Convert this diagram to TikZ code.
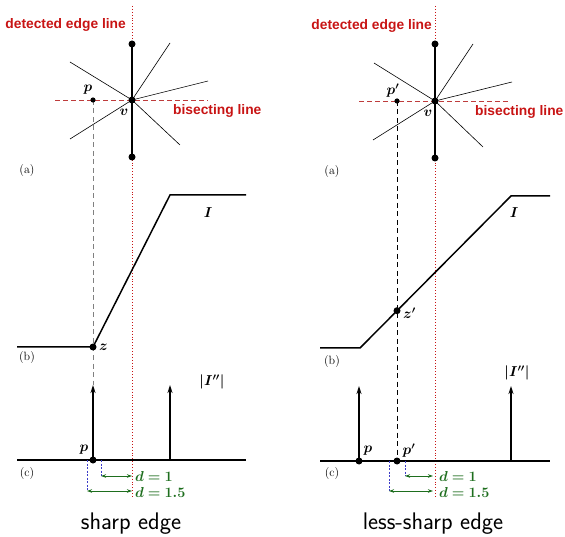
\documentclass[tikz,border=0pt]{standalone}
\usepackage{amsmath,bm}
\usepackage{fontspec}
\newfontfamily\labfont{Liberation Sans}
\usetikzlibrary{arrows.meta}
\definecolor{edgered}{RGB}{200,20,20}
\definecolor{bisred}{RGB}{190,60,60}
\definecolor{dgreen}{RGB}{30,110,30}
\definecolor{dblue}{RGB}{60,60,200}
\begin{document}
\begin{tikzpicture}[x=1pt,y=-1pt,
  redline/.style={edgered, dotted, line width=0.9pt},
  thickseg/.style={line width=2.6pt},
  ray/.style={line width=0.6pt},
  bisect/.style={bisred, dash pattern=on 5pt off 3pt, line width=0.8pt},
  guide/.style={gray, dash pattern=on 5pt off 3.5pt, line width=0.8pt},
  guideb/.style={black, dash pattern=on 5pt off 3.5pt, line width=0.7pt},
  curve/.style={line width=1.5pt},
  axis/.style={line width=2pt},
  spike/.style={line width=1.5pt, -{Stealth[length=8pt,width=5pt]}},
  bdash/.style={dblue, dash pattern=on 2pt off 1.5pt, line width=0.7pt},
  garrow/.style={dgreen, line width=0.9pt, {Stealth[length=5pt,width=3.5pt]}-{Stealth[length=5pt,width=3.5pt]}},
  glabel/.style={dgreen, anchor=west, inner sep=1pt, font=\fontsize{14.5}{14.5}\selectfont},
  redlab/.style={edgered, font=\labfont\bfseries\fontsize{13.8}{14}\selectfont, inner sep=0pt},
  mlab/.style={inner sep=1pt, font=\fontsize{14}{14}\selectfont},
  plab/.style={inner sep=0pt, font=\fontsize{12}{12}\selectfont},
  captext/.style={inner sep=0pt, font=\sffamily\fontsize{24}{24}\selectfont}
]
\useasboundingbox (0,0) rectangle (565,537);

% ================= LEFT PANEL =================
\coordinate (rLt) at (132,6);
\coordinate (rLb) at (132,498);
\coordinate (vL) at (132,100);
\coordinate (eLt) at (132,44);
\coordinate (eLb) at (132,157);
\coordinate (aL1) at (70,62);
\coordinate (aL2) at (180,145);
\coordinate (aL3) at (70,139);
\coordinate (aL4) at (170,43);
\coordinate (aL5) at (208,81);
\coordinate (bLl) at (55,100);
\coordinate (bLr) at (208,100);
\coordinate (pL) at (93,100);
\coordinate (cL0) at (17,347);
\coordinate (zL) at (93,347);
\coordinate (kL) at (170,195);
\coordinate (cL1) at (246,195);
\coordinate (xL0) at (17,460);
\coordinate (xL1) at (246,460);
\coordinate (pcL) at (93,460);
\coordinate (tL1) at (93,385);
\coordinate (sL) at (170,460);
\coordinate (tL2) at (170,385);
\coordinate (gL) at (93,385);
\coordinate (b1Lt) at (87,460);
\coordinate (b1Lb) at (87,491);
\coordinate (b2Lt) at (101,460);
\coordinate (b2Lb) at (101,476);
\coordinate (g1L) at (132,476);
\coordinate (g2L) at (132,491);

\draw[bisect] (bLl) -- (bLr);
\draw[guide] (pL) -- (gL);
\draw[redline] (rLt) -- (rLb);
\foreach \a in {aL1,aL2,aL3,aL4,aL5} \draw[ray] (vL) -- (\a);
\draw[thickseg] (eLt) -- (eLb);
\fill (eLt) circle (3.5) (eLb) circle (3.5) (vL) circle (3.5) (pL) circle (2.6);
\node[redlab, anchor=east] (detL) at (126,25) {detected edge line};
\node[redlab, anchor=west] (bisL) at (173,111) {bisecting line};
\node[mlab] (plL) at (88,90) {$\bm{p}$};
\node[mlab] (vlL) at (124,112) {$\bm{v}$};
\node[plab] (aLab) at (27,171) {(a)};

\draw[curve] (cL0) -- (zL) -- (kL) -- (cL1);
\fill (zL) circle (3.5);
\node[mlab, anchor=west] (zlL) at (98,347) {$\bm{z}$};
\node[mlab] (ILab) at (208,213) {$\bm{I}$};
\node[plab] (bLab) at (27,358) {(b)};

\draw[axis] (xL0) -- (xL1);
\draw[spike] (pcL) -- (tL1);
\draw[spike] (sL) -- (tL2);
\fill (pcL) circle (3.5);
\node[mlab] (ppL) at (84,450) {$\bm{p}$};
\node[mlab] (IddL) at (212,382) {$\bm{|I''|}$};
\node[plab] (cLab) at (27,474) {(c)};
\draw[bdash] (b1Lt) -- (b1Lb);
\draw[bdash] (b2Lt) -- (b2Lb);
\draw[garrow] (b2Lb) -- (g1L);
\draw[garrow] (b1Lb) -- (g2L);
\node[glabel] (d1L) at (134,476) {$\bm{d=1}$};
\node[glabel] (d2L) at (134,492) {$\bm{d=1.5}$};
\node[captext] (capL) at (131,524) {sharp edge};

% ================= RIGHT PANEL =================
\coordinate (rRt) at (435,6);
\coordinate (rRb) at (435,498);
\coordinate (vR) at (435,101);
\coordinate (eRt) at (435,44);
\coordinate (eRb) at (435,158);
\coordinate (aR1) at (374,63);
\coordinate (aR2) at (483,147);
\coordinate (aR3) at (373,140);
\coordinate (aR4) at (473,44);
\coordinate (aR5) at (512,82);
\coordinate (bRl) at (359,101);
\coordinate (bRr) at (508,101);
\coordinate (pR) at (397,101);
\coordinate (cR0) at (320,348);
\coordinate (kR0) at (360,348);
\coordinate (zR) at (397,310.7);
\coordinate (kR1) at (511,196);
\coordinate (cR1) at (550,196);
\coordinate (xR0) at (320,461);
\coordinate (xR1) at (550,461);
\coordinate (pcR) at (359,461);
\coordinate (tR1) at (359,386);
\coordinate (ppcR) at (397,461);
\coordinate (sR) at (511,461);
\coordinate (tR2) at (511,386);
\coordinate (b1Rt) at (389,461);
\coordinate (b1Rb) at (389,491);
\coordinate (b2Rt) at (405,461);
\coordinate (b2Rb) at (405,476);
\coordinate (g1R) at (433,476);
\coordinate (g2R) at (433,491);

\draw[bisect] (bRl) -- (bRr);
\draw[guideb] (pR) -- (ppcR);
\draw[redline] (rRt) -- (rRb);
\foreach \a in {aR1,aR2,aR3,aR4,aR5} \draw[ray] (vR) -- (\a);
\draw[thickseg] (eRt) -- (eRb);
\fill (eRt) circle (3.5) (eRb) circle (3.5) (vR) circle (3.5) (pR) circle (2.6);
\node[redlab, anchor=east] (detR) at (432,26) {detected edge line};
\node[redlab, anchor=west] (bisR) at (475,112) {bisecting line};
\node[mlab] (plR) at (393,91) {$\bm{p'}$};
\node[mlab] (vlR) at (428,113) {$\bm{v}$};
\node[plab] (aLabR) at (332,172) {(a)};

\draw[curve] (cR0) -- (kR0) -- (kR1) -- (cR1);
\fill (zR) circle (3.5);
\node[mlab, anchor=west] (zlR) at (402,313) {$\bm{z'}$};
\node[mlab] (ILabR) at (514,213) {$\bm{I}$};
\node[plab] (bLabR) at (332,362) {(b)};

\draw[axis] (xR0) -- (xR1);
\draw[spike] (pcR) -- (tR1);
\draw[spike] (sR) -- (tR2);
\fill (pcR) circle (3.5) (ppcR) circle (3.5);
\node[mlab] (ppR) at (368,451) {$\bm{p}$};
\node[mlab] (pppR) at (409,451) {$\bm{p'}$};
\node[mlab] (IddR) at (517,373) {$\bm{|I''|}$};
\node[plab] (cLabR) at (332,474) {(c)};
\draw[bdash] (b1Rt) -- (b1Rb);
\draw[bdash] (b2Rt) -- (b2Rb);
\draw[garrow] (b2Rb) -- (g1R);
\draw[garrow] (b1Rb) -- (g2R);
\node[glabel] (d1R) at (438,476) {$\bm{d=1}$};
\node[glabel] (d2R) at (438,492) {$\bm{d=1.5}$};
\node[captext] (capR) at (433,524) {less-sharp edge};
\end{tikzpicture}
\end{document}
